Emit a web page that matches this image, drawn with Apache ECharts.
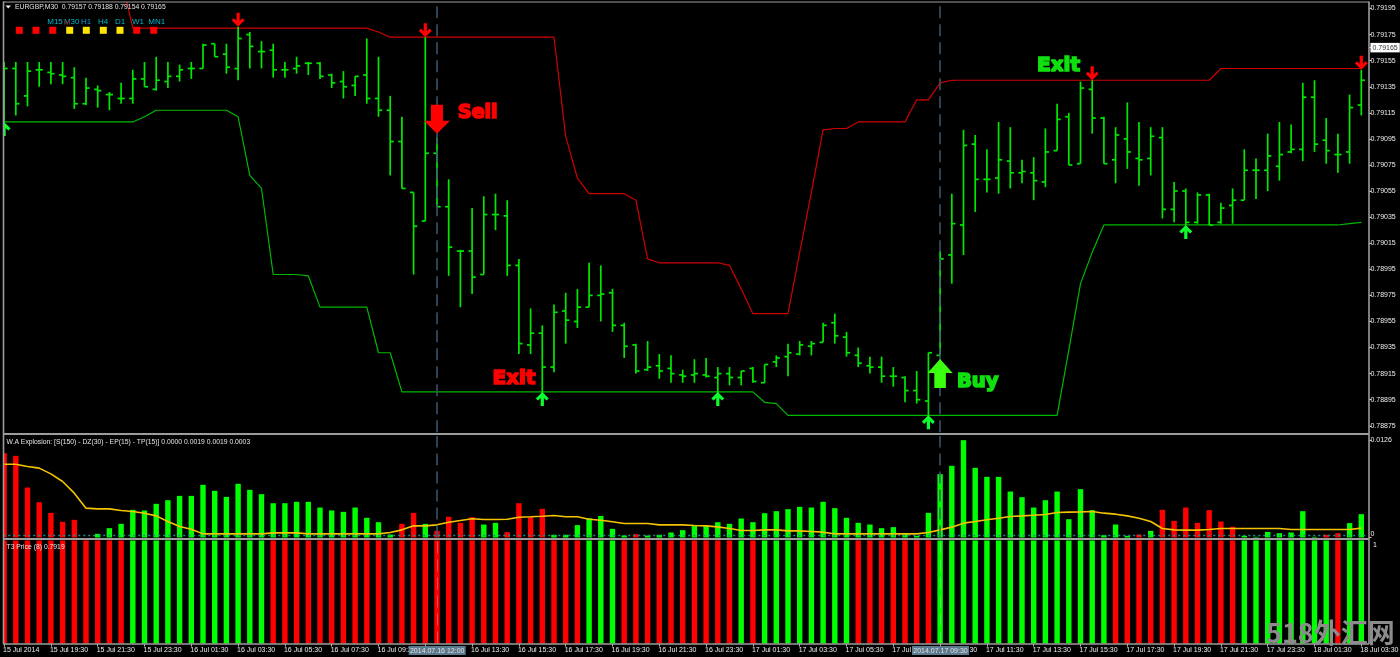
<!DOCTYPE html>
<html>
<head>
<meta charset="utf-8">
<style>html,body{margin:0;padding:0;background:#000}#c{width:1400px;height:657px}</style>
<script src="https://cdn.jsdelivr.net/npm/echarts@6/dist/echarts.min.js"></script>
</head>
<body>
<div id="c"></div>
<script>
// Bar prices are in 1e-5 units (79165 = 0.79165)
const tickLabels = ['15 Jul 2014','15 Jul 19:30','15 Jul 21:30','15 Jul 23:30','16 Jul 01:30','16 Jul 03:30','16 Jul 05:30','16 Jul 07:30','16 Jul 09:30','16 Jul 11:30','16 Jul 13:30','16 Jul 15:30','16 Jul 17:30','16 Jul 19:30','16 Jul 21:30','16 Jul 23:30','17 Jul 01:30','17 Jul 03:30','17 Jul 05:30','17 Jul 07:30','17 Jul 09:30','17 Jul 11:30','17 Jul 13:30','17 Jul 15:30','17 Jul 17:30','17 Jul 19:30','17 Jul 21:30','17 Jul 23:30','18 Jul 01:30','18 Jul 03:30'];
const priceTicks = [78875,78895,78915,78935,78955,78975,78995,79015,79035,79055,79075,79095,79115,79135,79155,79165,79175,79195];
const currentPrice = 79165;
const open = [
79149,79149,79128,79148,79146,79144,79142,79122,79133,79129,
79126,79126,79141,79133,79139,79143,79149,79149,79168,79160,
79149,79175,79162,79163,79148,79149,79153,79153,79144,79139,
79136,79144,79126,79117,79093,79054,79032,79084,79043,79009,
79009,78991,79037,79036,78998,78937,78946,78920,78963,78955,
78966,78975,78977,78952,78937,78918,78921,78919,78914,78914,
78914,78912,78915,78912,78919,78908,78924,78928,78930,78936,
78939,78954,78943,78929,78921,78920,78913,78912,78902,78894,
78929,79006,79029,79091,79064,79065,79078,79069,79069,79062,
79086,79112,79076,79133,79111,79079,79095,79080,79080,79096,
79041,79055,79031,79052,79031,79044,79048,79071,79071,79074,
79085,79087,79127,79094,79083,79085,79121];
const high = [
79154,79154,79154,79154,79154,79154,79150,79142,79136,79131,
79138,79148,79154,79158,79154,79152,79154,79168,79168,79168,
79181,79177,79170,79168,79154,79158,79154,79154,79145,79147,
79143,79172,79158,79128,79112,79054,79173,79096,79064,79010,
79042,79051,79053,79048,79003,78965,78952,78968,78977,78980,
79000,78998,78980,78954,78938,78940,78930,78929,78918,78926,
78927,78920,78920,78917,78920,78922,78929,78938,78940,78940,
78954,78961,78947,78935,78928,78928,78920,78913,78917,78931,
79009,79053,79102,79098,79087,79108,79104,79079,79081,79103,
79122,79115,79139,79140,79112,79104,79123,79108,79104,79104,
79062,79057,79054,79053,79046,79057,79087,79080,79099,79108,
79106,79138,79140,79111,79099,79129,79148];
const low = [
79107,79113,79120,79135,79137,79137,79118,79121,79119,79117,
79122,79122,79135,79132,79134,79139,79141,79149,79158,79145,
79140,79149,79149,79142,79142,79145,79144,79141,79134,79126,
79128,79122,79112,79067,79057,78991,79032,79043,78990,78966,
78976,78991,79025,78990,78930,78930,78900,78916,78938,78950,
78966,78955,78947,78927,78915,78917,78911,78908,78908,78908,
78912,78900,78906,78906,78908,78908,78920,78913,78929,78929,
78939,78938,78928,78920,78915,78908,78905,78893,78892,78883,
78929,78984,79006,79039,79054,79053,79057,79061,79048,79058,
79086,79075,79076,79099,79076,79061,79072,79059,79067,79034,
79031,79029,79030,79029,79030,79030,79048,79049,79055,79063,
79084,79078,79085,79076,79069,79076,79113];
const close = [
79149,79122,79147,79148,79145,79143,79122,79134,79132,79129,
79126,79141,79135,79140,79143,79148,79149,79167,79158,79150,
79172,79166,79162,79148,79148,79151,79153,79143,79138,79135,
79143,79126,79117,79093,79057,79028,79084,79043,79012,79009,
78989,79037,79037,78998,78938,78946,78920,78962,78956,78966,
78975,78976,78952,78936,78917,78920,78917,78915,78913,78915,
78913,78915,78912,78917,78909,78922,78927,78931,78937,78938,
78952,78944,78931,78923,78920,78913,78913,78902,78895,78931,
79003,79030,79090,79064,79064,79079,79069,79070,79063,79085,
79110,79075,79134,79111,79076,79098,79085,79079,79097,79041,
79055,79031,79052,79029,79042,79048,79071,79071,79082,79083,
79087,79127,79091,79086,79083,79119,79140];
const upperBand = [
null,null,null,null,null,null,null,null,null,null,
79219,79180,79180,79180,79180,79180,79180,79180,79180,79180,
79180,79180,79180,79180,79180,79180,79180,79180,79180,79180,
79180,79180,79177,79173,79173,79173,79173,79173,79173,79173,
79173,79173,79173,79173,79173,79173,79173,79173,79097,79065,
79053,79053,79053,79053,79048,79003,79000,79000,79000,79000,
79000,79000,78998,78980,78961,78961,78961,78961,79008,79054,
79102,79103,79103,79108,79108,79108,79108,79108,79125,79125,
79138,79140,79140,79140,79140,79140,79140,79140,79140,79140,
79140,79140,79140,79140,79140,79140,79140,79140,79140,79140,
79140,79140,79140,79140,79149,79149,79149,79149,79149,79149,
79149,79149,79149,79149,79149,79149,79149];
const lowerBand = [
79108,79108,79108,79108,79108,79108,79108,79108,79108,79108,
79108,79108,79112,79117,79117,79117,79117,79117,79117,79117,
79112,79067,79057,78991,78991,78991,78990,78966,78966,78966,
78966,78966,78931,78931,78901,78901,78901,78901,78901,78901,
78901,78901,78901,78901,78901,78901,78901,78901,78901,78901,
78901,78901,78901,78901,78901,78901,78901,78901,78901,78901,
78901,78901,78901,78901,78901,78893,78892,78883,78883,78883,
78883,78883,78883,78883,78883,78883,78883,78883,78883,78883,
78883,78883,78883,78883,78883,78883,78883,78883,78883,78883,
78883,78933,78984,79008,79029,79029,79029,79029,79029,79029,
79029,79029,79029,79029,79029,79029,79029,79029,79029,79029,
79029,79029,79029,79029,79029,79030,79031];
// up arrows sit under a bar's low, down arrows above its high: [bar, price]
const upArrows = [[0,79108],[46,78901],[61,78901],[79,78883],[101,79029]];
const downArrows = [[20,79181],[36,79173],[93,79140],[116,79148]];
const sellArrow = [[37,79110]];
const buyArrow = [[80,78915]];
// W.A Explosion histogram in 1e-5 units; sign: 1 green, -1 red
const explosion = [
1092,1057,647,457,319,203,229,0,47,121,
177,358,350,436,483,539,539,682,604,526,
695,617,561,444,444,462,462,388,350,332,
388,255,198,39,177,319,177,86,268,190,
263,168,190,69,444,263,371,35,35,160,
250,280,112,26,43,26,35,65,95,147,
147,198,177,246,198,315,341,367,397,388,
462,380,255,190,168,121,134,43,22,319,
820,928,1260,902,785,785,595,522,388,483,
595,237,626,354,30,168,22,39,86,358,
216,388,190,354,207,138,22,9,73,56,
65,341,9,35,56,186,302];
const explosionSign = [
-1,-1,-1,-1,-1,-1,-1,1,1,1,
1,1,1,1,1,1,1,1,1,1,
1,1,1,1,1,1,1,1,1,1,
1,1,1,1,-1,-1,1,-1,-1,-1,
-1,1,1,-1,-1,-1,-1,1,1,1,
1,1,1,1,-1,1,1,1,1,1,
1,1,1,1,1,1,1,1,1,1,
1,1,1,1,1,1,1,1,1,1,
1,1,1,1,1,1,1,1,1,1,
1,1,1,1,1,1,1,-1,1,-1,
-1,-1,-1,-1,-1,-1,1,1,1,1,
1,1,1,-1,-1,1,1];
const trigger = [
949,949,919,898,824,725,574,380,371,371,
350,337,315,280,207,142,108,47,47,47,
47,47,47,60,60,60,47,47,47,47,
47,47,47,65,99,151,151,164,198,220,
242,233,233,237,263,268,276,285,268,268,
237,224,203,181,181,181,164,164,164,155,
151,138,117,91,91,99,99,86,86,78,
69,47,47,47,47,47,47,47,47,65,
99,134,186,207,229,250,272,280,289,298,
324,328,332,337,315,302,280,250,207,117,
99,95,95,104,117,117,117,117,117,117,
104,104,104,104,104,104,121];
const deadZone = 30;
const t3Signal = [
-1,-1,-1,-1,-1,-1,-1,-1,-1,-1,
-1,1,1,1,1,1,1,1,1,1,
1,1,1,-1,-1,-1,-1,-1,-1,-1,
-1,-1,-1,-1,-1,-1,-1,-1,-1,-1,
-1,-1,-1,-1,-1,-1,-1,-1,-1,-1,
1,1,1,-1,-1,-1,-1,-1,-1,-1,
-1,-1,-1,1,-1,1,1,1,1,1,
1,1,1,-1,-1,-1,-1,-1,-1,-1,
1,1,1,1,1,1,1,1,1,1,
1,1,1,1,1,-1,-1,-1,-1,-1,
-1,-1,-1,-1,-1,-1,1,1,1,1,
1,1,1,1,-1,1,1];
const signalBars = [37, 80];
const mtfNames = ['M15','M30','H1','H4','D1','W1','MN1'];
const mtfColors = ['#ff0000','#ff0000','#ff0000','#ffe600','#ffe600','#ffe600','#ffe600','#ff0000','#ff0000'];

const FONT = '"Liberation Sans", Arial, sans-serif';
const GREEN = '#00ff00', RED = '#ff0000';
const categories = open.map((_, i) => i % 4 === 0 ? tickLabels[i / 4] : '');
const everyFourth = i => i % 4 === 0;
const ohlc = open.map((o, i) => [i, o, high[i], low[i], close[i]]);
const bars = (arr, signs) => arr.map((v, i) => ({ value: v, itemStyle: { color: signs[i] > 0 ? GREEN : RED } }));

const GRID_LEFT = -1.75, GRID_W = 1368.9;
const hiddenX = g => ({ type: 'category', gridIndex: g, data: categories, axisLine: { show: false }, axisTick: { show: false }, axisLabel: { show: false }, splitLine: { show: false } });
const vLines = (color, width) => ({
  silent: true, symbol: 'none', animation: false, label: { show: false },
  lineStyle: { color, width, type: [12, 6] },
  data: signalBars.map(b => ({ xAxis: b }))
});
const arrowUp = 'path://M6.5 0 L13 6.5 L10.7 8.6 L8.1 6 L8.1 14 L4.9 14 L4.9 6 L2.3 8.6 L0 6.5 Z';
const arrowDown = 'path://M4.9 0 L8.1 0 L8.1 8 L10.7 5.4 L13 7.5 L6.5 14 L0 7.5 L2.3 5.4 L4.9 8 Z';
const bigUp = 'path://M13 0 L26 14 L19 14 L19 29 L7 29 L7 14 L0 14 Z';
const bigDown = 'path://M7 0 L19 0 L19 16 L26 16 L13 29 L0 16 L7 16 Z';
const solid = color => ({ color, opacity: 1 });

const txt = (text, x, y, fill, font, extra) => ({ type: 'text', z: 120, silent: true, x, y, style: Object.assign({ text, fill, font, textVerticalAlign: 'middle', textAlign: 'left' }, extra || {}) });
const fat = (text, x, y, fill, size) => txt(text, x, y, fill, `bold ${size}px "DejaVu Sans"`, { stroke: fill, lineWidth: 1.7 });
const hline = (x1, x2, y, w) => ({ type: 'line', z: 110, silent: true, shape: { x1, y1: y, x2, y2: y }, style: { stroke: '#9c9c9c', lineWidth: w } });
const vline = (x, y1, y2, w) => ({ type: 'line', z: 110, silent: true, shape: { x1: x, y1, x2: x, y2 }, style: { stroke: '#9c9c9c', lineWidth: w } });
const dateBox = (text, x) => [
  { type: 'rect', z: 115, silent: true, shape: { x, y: 646, width: 57, height: 9 }, style: { fill: '#5c7a8e' } },
  txt(text, x + 28.5, 650.7, '#e0e0e0', `7px ${FONT}`, { textAlign: 'center' })
];
const mtfX = [55, 71.7, 86, 103, 120, 138, 156.7];
const squareX = [19.3, 36, 52.7, 69.7, 86.3, 103.3, 120, 136.7, 153.7];

const titleStyle = { color: '#e4e4e4', fontSize: 6.8, fontWeight: 'normal', fontFamily: FONT };
const option = {
  backgroundColor: '#000',
  animation: false,
  title: [
    { text: 'EURGBP,M30  0.79157 0.79188 0.79154 0.79165', left: 15, top: 4, padding: 0, textStyle: titleStyle },
    { text: 'W.A Explosion: [S(150) - DZ(30) - EP(15) - TP(15)] 0.0000 0.0019 0.0019 0.0003', left: 6.5, top: 438.5, padding: 0, textStyle: titleStyle },
    { text: 'T3 Price (8) 0.7919', left: 6.5, top: 544, padding: 0, textStyle: titleStyle }
  ],
  grid: [
    { left: GRID_LEFT, width: GRID_W, top: 2, height: 430.3, outerBoundsMode: 'none' },
    { left: GRID_LEFT, width: GRID_W, top: 436, height: 101.5, outerBoundsMode: 'none' },
    { left: GRID_LEFT, width: GRID_W, top: 540.5, height: 103, outerBoundsMode: 'none' }
  ],
  xAxis: [
    hiddenX(0), hiddenX(1),
    { type: 'category', gridIndex: 2, data: categories,
      axisLine: { show: false },
      axisTick: { show: true, length: 3, alignWithLabel: true, interval: everyFourth, lineStyle: { color: '#bbb' } },
      axisLabel: { show: true, interval: everyFourth, align: 'left', margin: 3.5, padding: [0, 0, 0, -1], color: '#ececec', fontSize: 7, fontFamily: FONT },
      splitLine: { show: false } }
  ],
  yAxis: [
    { type: 'value', gridIndex: 0, position: 'right', offset: 1.8, min: 78870, max: 79200, scale: true, splitLine: { show: false },
      axisLine: { show: false }, axisTick: { show: true, length: 2.5, customValues: priceTicks, lineStyle: { color: '#ccc' } },
      axisLabel: { margin: 1.5, customValues: priceTicks, color: '#ececec', fontSize: 7, fontFamily: FONT,
        formatter: v => { const s = (v / 1e5).toFixed(5); return v === currentPrice ? `{cur|${s}}` : s; },
        rich: { cur: { backgroundColor: '#fff', color: '#333', fontSize: 7, fontFamily: FONT, padding: [1.5, 2, 1, 2] } } } },
    { type: 'value', gridIndex: 1, position: 'right', offset: 1.8, min: 0, max: 1314, splitLine: { show: false },
      axisLine: { show: false }, axisTick: { show: true, length: 2.5, customValues: [0, 1260], lineStyle: { color: '#ccc' } },
      axisLabel: { margin: 1.5, customValues: [0, 1260], color: '#ececec', fontSize: 7, fontFamily: FONT, verticalAlignMinLabel: 'bottom',
        formatter: v => v === 0 ? '0' : (v / 1e5).toFixed(4) } },
    { type: 'value', gridIndex: 2, position: 'right', offset: 1.8, min: 0, max: 1, splitLine: { show: false },
      axisLine: { show: false }, axisTick: { show: false },
      axisLabel: { margin: 4, customValues: [0.955], color: '#ececec', fontSize: 7, fontFamily: FONT, formatter: () => '1' } }
  ],
  series: [
    { name: 'OHLC', type: 'custom', xAxisIndex: 0, yAxisIndex: 0, z: 3, data: ohlc, clip: false,
      encode: { x: 0, y: [1, 2, 3, 4] },
      renderItem: (params, api) => {
        const i = api.value(0);
        const pO = api.coord([i, api.value(1)]), pH = api.coord([i, api.value(2)]);
        const pL = api.coord([i, api.value(3)]), pC = api.coord([i, api.value(4)]);
        const st = { stroke: '#00e800', lineWidth: 1.7, fill: null };
        const tick = 3.6;
        return { type: 'group', children: [
          { type: 'line', shape: { x1: pH[0], y1: pH[1], x2: pL[0], y2: pL[1] }, style: st },
          { type: 'line', shape: { x1: pO[0] - tick, y1: pO[1], x2: pO[0], y2: pO[1] }, style: st },
          { type: 'line', shape: { x1: pC[0], y1: pC[1], x2: pC[0] + tick, y2: pC[1] }, style: st }
        ] };
      },
      markLine: vLines('#3d5770', 1.5)
    },
    { name: 'Upper band', type: 'line', xAxisIndex: 0, yAxisIndex: 0, z: 2, data: upperBand, showSymbol: false, symbol: 'none', lineStyle: { color: '#d00000', width: 1.2 } },
    { name: 'Lower band', type: 'line', xAxisIndex: 0, yAxisIndex: 0, z: 2, data: lowerBand, showSymbol: false, symbol: 'none', lineStyle: { color: '#00b800', width: 1.2 } },
    { name: 'Up', type: 'scatter', xAxisIndex: 0, yAxisIndex: 0, z: 5, clip: false, data: upArrows, symbol: arrowUp, symbolSize: [13, 14], symbolOffset: [0, 7], itemStyle: solid('#0cff2c') },
    { name: 'Down', type: 'scatter', xAxisIndex: 0, yAxisIndex: 0, z: 5, clip: false, data: downArrows, symbol: arrowDown, symbolSize: [13, 14], symbolOffset: [0, -7], itemStyle: solid('#ff0000') },
    { name: 'Sell', type: 'scatter', xAxisIndex: 0, yAxisIndex: 0, z: 6, clip: false, data: sellArrow, symbol: bigDown, symbolSize: [26, 29], itemStyle: solid('#ff0000') },
    { name: 'Buy', type: 'scatter', xAxisIndex: 0, yAxisIndex: 0, z: 6, clip: false, data: buyArrow, symbol: bigUp, symbolSize: [25, 29], itemStyle: solid('#3cff10') },
    { name: 'Explosion', type: 'bar', xAxisIndex: 1, yAxisIndex: 1, z: 2, barWidth: 5.4, data: bars(explosion, explosionSign), markLine: vLines('#3d5770', 1.5) },
    { name: 'Trigger', type: 'line', xAxisIndex: 1, yAxisIndex: 1, z: 4, data: trigger, showSymbol: false, symbol: 'none', lineStyle: { color: '#f5c400', width: 1.6 },
      markLine: { silent: true, symbol: 'none', label: { show: false }, lineStyle: { color: '#1a8f8f', width: 1.3, type: [2, 3] }, data: [{ yAxis: deadZone }] } },
    { name: 'T3', type: 'bar', xAxisIndex: 2, yAxisIndex: 2, z: 2, barWidth: 5.4, data: bars(open.map(() => 1), t3Signal), markLine: vLines('rgba(255,255,255,0.28)', 1) }
  ],
  graphic: { elements: [
    { type: 'rect', z: 105, silent: true, shape: { x: 0, y: 0, width: 3, height: 657 }, style: { fill: '#000' } },
    { type: 'rect', z: 105, silent: true, shape: { x: 0, y: 0, width: 1400, height: 1.5 }, style: { fill: '#000' } },
    hline(3, 1369, 2, 1.2),
    vline(3.5, 1.5, 644, 1.6),
    vline(1369, 1.5, 644, 1.6),
    hline(3, 1369, 434, 2),
    hline(3, 1369, 539, 2),
    hline(3, 1369, 644, 1.5),
    { type: 'polygon', z: 120, silent: true, shape: { points: [[5.5, 5.5], [11, 5.5], [8.25, 8.5]] }, style: { fill: '#eee' } },
    ...mtfNames.map((n, i) => txt(n, mtfX[i], 22, i === 2 ? '#0a9fd8' : '#00b8cc', `8px ${FONT}`, { textAlign: 'center' })),
    txt('M', 67, 22.5, '#8a1010', `8px ${FONT}`, { textAlign: 'center' }),
    ...squareX.map((x, i) => ({ type: 'rect', z: 120, silent: true, shape: { x: x - 3.5, y: 26.8, width: 7, height: 7 }, style: { fill: mtfColors[i] } })),
    fat('Sell', 458, 113, '#ff0000', 19),
    fat('Exit', 492.5, 379, '#ff0000', 20),
    fat('Buy', 957, 382, '#10e010', 19.5),
    fat('Exit', 1037, 66, '#10e010', 20),
    ...dateBox('2014.07.16 12:00', 408.7),
    ...dateBox('2014.07.17 09:30', 912),
    txt('518外汇网', 1266, 632.5, '#8c8c8c', 'bold 27px "Noto Sans CJK SC"', {})
  ] }
};
echarts.init(document.getElementById('c'), null, { renderer: 'canvas' }).setOption(option);
</script>
</body>
</html>
